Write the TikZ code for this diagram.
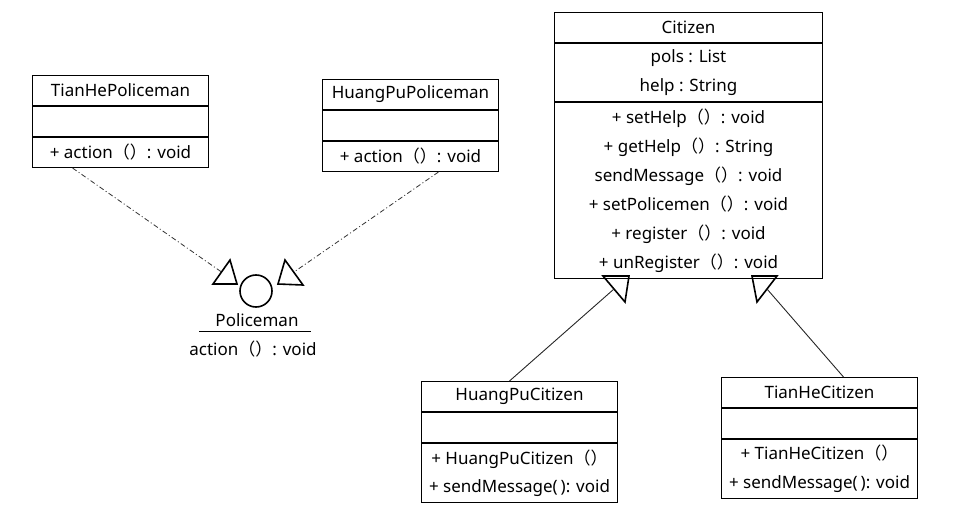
\documentclass[tikz,border=0pt]{standalone}
\usepackage{fontspec}
\setmainfont{Noto Sans}
\newfontfamily\cjk{Noto Sans CJK SC}
\usetikzlibrary{positioning}
\newcommand{\pp}{{\cjk （）}}
\tikzset{
  classbox/.style={draw, line width=1pt, minimum width=#1, inner sep=0pt, align=center},
  realize/.style={line width=0.8pt, dash pattern=on 5pt off 2.5pt on 1pt off 2.5pt, black!80},
  inherit/.style={line width=0.9pt, black!85},
  headtri/.style={line width=1.6pt, line join=miter},
}

\begin{document}
\begin{tikzpicture}[x=1pt, y=-1pt, font=\fontsize{17}{29}\selectfont]
   \useasboundingbox (0,0) rectangle (962,511);

   \node[classbox=176, minimum height=30, anchor=north west] (thpTitle) at (32,75) {TianHePoliceman};
   \node[classbox=176, minimum height=30, below=0pt of thpTitle] (thpAttr) {};
   \node[classbox=176, minimum height=30, below=0pt of thpAttr] (thpOps) {+ action\pp: void};

   \node[classbox=176, minimum height=30, anchor=north west] (hppTitle) at (322,79) {HuangPuPoliceman};
   \node[classbox=176, minimum height=30, below=0pt of hppTitle] (hppAttr) {};
   \node[classbox=176, minimum height=30, below=0pt of hppAttr] (hppOps) {+ action\pp: void};

   \node[classbox=268, minimum height=30, anchor=north west] (citTitle) at (554,12) {Citizen};
   \node[classbox=268, minimum height=58, below=0pt of citTitle] (citAttr) {pols : List\\help : String};
   \node[classbox=268, minimum height=176, below=0pt of citAttr] (citOps)
     {+ setHelp\pp: void\\+ getHelp\pp: String\\sendMessage\pp: void\\+ setPolicemen\pp: void\\+ register\pp: void\\+ unRegister\pp: void};

   \node[classbox=196, minimum height=30, anchor=north west] (hpcTitle) at (421,381) {HuangPuCitizen};
   \node[classbox=196, minimum height=30, below=0pt of hpcTitle] (hpcAttr) {};
   \node[classbox=196, minimum height=59, below=0pt of hpcAttr, font=\fontsize{17}{28}\selectfont] (hpcOps)
     {+ HuangPuCitizen\pp\\+ sendMessage(\,): void};

   \node[classbox=196, minimum height=30, anchor=north west] (thcTitle) at (721,377) {TianHeCitizen};
   \node[classbox=196, minimum height=30, below=0pt of thcTitle] (thcAttr) {};
   \node[classbox=196, minimum height=59, below=0pt of thcAttr] (thcOps)
     {+ TianHeCitizen\pp\\+ sendMessage(\,): void};

   \node[draw, circle, line width=1.6pt, minimum size=32, inner sep=0pt] (pol) at (256,291) {};
   \node (polName) at (257,320) {Policeman};
   \node (polOps) at (253,349) {action\pp: void};
   \coordinate (ulL) at (199,331);
   \coordinate (ulR) at (311,331);
   \draw[line width=1pt] (ulL) -- (ulR);

   \draw[headtri] (213,284) -- (230,260) -- (237,284) -- cycle;
   \draw[headtri] (278,284) -- (285,260) -- (303,285) -- cycle;
   \coordinate (tipL) at (221.5,272);
   \coordinate (tipR) at (294,272);
   \draw[realize] ([xshift=-48pt]thpOps.south) -- (tipL);
   \draw[realize] ([xshift=28pt]hppOps.south) -- (tipR);

   \draw[headtri] (603,276) -- (629,276) -- (625,302) -- cycle;
   \draw[headtri] (752,276) -- (777,276) -- (757,302) -- cycle;
   \coordinate (genL) at (614,289);
   \coordinate (genR) at (767,289);
   \draw[inherit] ([xshift=-10pt]hpcTitle.north) -- (genL);
   \draw[inherit] ([xshift=24pt]thcTitle.north) -- (genR);
  \end{tikzpicture}
\end{document}
